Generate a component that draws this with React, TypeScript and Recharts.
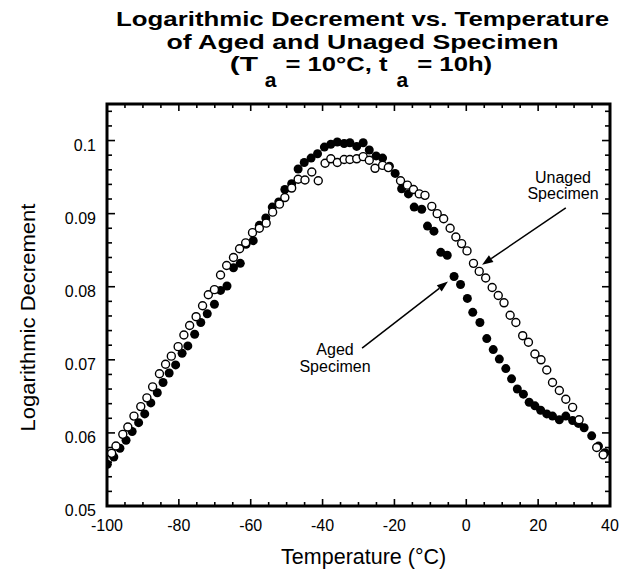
import React from 'react';
import { ScatterChart, Scatter, XAxis, YAxis, ReferenceArea, ReferenceLine } from 'recharts';

const FONT = '"Liberation Sans", Arial, Helvetica, sans-serif';

// aged specimen (filled circles): temperature in °C, logarithmic decrement
const agedTemp = [
  -99.9, -98.1, -96.4, -94.7, -93.0, -91.2, -89.5, -87.8, -86.0, -84.4, -82.7, -80.9, -79.1, -77.5,
  -75.6, -73.9, -72.1, -70.1, -68.4, -66.6, -64.8, -62.9, -61.3, -59.3, -57.6, -55.8, -54.0, -52.2,
  -50.5, -48.6, -46.8, -45.1, -43.2, -41.4, -39.5, -37.7, -35.9, -34.0, -32.4, -30.5, -28.7, -27.0,
  -25.1, -23.3, -21.4, -19.8, -18.0, -16.1, -14.5, -12.4, -10.8, -9.0, -7.1, -5.3, -3.4, -1.6,
  0.3, 1.8, 3.8, 5.7, 7.5, 9.2, 11.0, 12.6, 14.2, 15.9, 17.5, 19.1, 20.7, 22.4, 24.0, 25.9,
  27.7, 29.6, 31.2, 32.8, 34.9, 36.8, 38.6,
];
const agedDecrement = [
  0.0557, 0.0567, 0.0579, 0.059, 0.0602, 0.0614, 0.0626, 0.0641, 0.0655, 0.0669, 0.0682, 0.0693, 0.0709, 0.0719,
  0.0735, 0.0751, 0.0763, 0.0776, 0.0795, 0.0801, 0.0826, 0.0832, 0.0858, 0.0863, 0.0884, 0.0894, 0.0909, 0.0916,
  0.0933, 0.0941, 0.0961, 0.097, 0.0976, 0.0982, 0.0991, 0.0995, 0.0998, 0.0996, 0.0997, 0.0992, 0.0997, 0.0987,
  0.0979, 0.0976, 0.0965, 0.0955, 0.0934, 0.0927, 0.0909, 0.0906, 0.0883, 0.0876, 0.0847, 0.0843, 0.0814, 0.0803,
  0.0784, 0.0765, 0.0751, 0.0729, 0.0714, 0.0701, 0.0688, 0.0674, 0.066, 0.0653, 0.0642, 0.0637, 0.0631, 0.0626, 0.0623, 0.0618,
  0.0623, 0.0617, 0.0613, 0.0607, 0.0596, 0.0582, 0.0573,
];

// unaged specimen (open circles)
const unagedTemp = [
  -98.7, -97.5, -95.6, -94.2, -92.5, -90.6, -88.9, -87.3, -85.4, -83.7, -82.1, -80.2, -78.6, -77.0,
  -75.2, -73.4, -71.8, -70.1, -68.4, -66.7, -64.8, -63.1, -61.4, -59.5, -57.6, -55.7, -53.9, -52.0,
  -50.5, -48.6, -46.8, -44.9, -43.0, -41.2, -39.3, -37.7, -35.9, -34.0, -32.4, -30.5, -28.7, -27.0,
  -25.4, -23.3, -21.7, -18.3, -16.4, -14.7, -13.1, -11.5, -9.6, -8.1, -6.3, -4.5, -2.9, -1.3,
  0.2, 2.0, 3.6, 5.4, 7.2, 8.9, 10.5, 12.2, 13.8, 15.7, 17.3, 19.1, 20.8, 22.4, 24.0, 25.9,
  27.7, 29.6, 31.4, 36.3, 38.1,
];
const unagedDecrement = [
  0.0572, 0.0582, 0.0598, 0.0608, 0.0623, 0.0636, 0.0648, 0.0663, 0.0681, 0.0694, 0.0705, 0.0718, 0.0734, 0.0747,
  0.0759, 0.0774, 0.0789, 0.0796, 0.0816, 0.0829, 0.084, 0.0852, 0.086, 0.0874, 0.088, 0.0887, 0.0902, 0.0913,
  0.0922, 0.0935, 0.0947, 0.0946, 0.0957, 0.0945, 0.0969, 0.0975, 0.097, 0.0974, 0.0974, 0.0975, 0.0978, 0.0973,
  0.0962, 0.0966, 0.0963, 0.0945, 0.0939, 0.0933, 0.0927, 0.0925, 0.091, 0.09, 0.0893, 0.088, 0.0868, 0.0859,
  0.0849, 0.0832, 0.0821, 0.0812, 0.0799, 0.0788, 0.0778, 0.0761, 0.0751, 0.0733, 0.0724, 0.0708, 0.07, 0.0686, 0.0669, 0.0658,
  0.0646, 0.0635, 0.0618, 0.058, 0.057,
];

const xMajorTicks = [-100, -80, -60, -40, -20, 0, 20, 40];
const xTicks = [
  -100, -95, -90, -85, -80, -75, -70, -65, -60, -55, -50, -45, -40, -35, -30, -25, -20, -15, -10, -5,
  0, 5, 10, 15, 20, 25, 30, 35, 40,
];
const yMajorTicks = [0.05, 0.06, 0.07, 0.08, 0.09, 0.1];
const yTickLabels = ['0.05', '0.06', '0.07', '0.08', '0.09', '0.1'];
const yTicks = [
  0.05, 0.052, 0.054, 0.056, 0.058, 0.06, 0.062, 0.064, 0.066, 0.068, 0.07, 0.072, 0.074, 0.076,
  0.078, 0.08, 0.082, 0.084, 0.086, 0.088, 0.09, 0.092, 0.094, 0.096, 0.098, 0.1, 0.102, 0.104,
];

const aged = agedTemp.map((t, i) => ({ t, d: agedDecrement[i] }));
const unaged = unagedTemp.map((t, i) => ({ t, d: unagedDecrement[i] }));

// plot box edges in px, used for mirrored inner ticks
const BOX = { left: 107, right: 610, top: 104, bottom: 506 };

const XTick = (props: any) => {
  const { x, payload } = props;
  const major = xMajorTicks.includes(payload.value);
  const len = major ? 7 : 4;
  return (
    <g>
      <line x1={x} x2={x} y1={BOX.bottom} y2={BOX.bottom - len} stroke="#000" strokeWidth={1.6} />
      <line x1={x} x2={x} y1={BOX.top} y2={BOX.top + len} stroke="#000" strokeWidth={1.6} />
      {major && (
        <text x={x} y={531} textAnchor="middle" fontSize={16} fontFamily={FONT} fill="#000">
          {payload.value}
        </text>
      )}
    </g>
  );
};

const YTick = (props: any) => {
  const { y, payload } = props;
  const idx = yMajorTicks.findIndex((v) => Math.abs(v - payload.value) < 1e-6);
  const major = idx >= 0;
  const len = major ? 8 : 5;
  return (
    <g>
      <line x1={BOX.left} x2={BOX.left + len} y1={y} y2={y} stroke="#000" strokeWidth={1.6} />
      <line x1={BOX.right} x2={BOX.right - len} y1={y} y2={y} stroke="#000" strokeWidth={1.6} />
      {major && (
        <text x={96} y={y + 10} textAnchor="end" fontSize={16} fontFamily={FONT} fill="#000">
          {yTickLabels[idx]}
        </text>
      )}
    </g>
  );
};

const Arrow = (props: any) => {
  const { x1, y1, x2, y2 } = props;
  const a = Math.atan2(y2 - y1, x2 - x1);
  const L = 11;
  const W = 4;
  const bx = x2 - L * Math.cos(a);
  const by = y2 - L * Math.sin(a);
  const p1 = `${bx + W * Math.sin(a)},${by - W * Math.cos(a)}`;
  const p2 = `${bx - W * Math.sin(a)},${by + W * Math.cos(a)}`;
  return (
    <g>
      <line x1={x1} y1={y1} x2={bx} y2={by} stroke="#000" strokeWidth={1.5} />
      <polygon points={`${x2},${y2} ${p1} ${p2}`} fill="#000" />
    </g>
  );
};

const FilledDot = (props: any) => <circle cx={props.cx} cy={props.cy} r={4.5} fill="#000" />;
const OpenDot = (props: any) => (
  <circle cx={props.cx} cy={props.cy} r={4} fill="#fff" stroke="#000" strokeWidth={1.4} />
);

export default function App() {
  return (
    <div style={{ position: 'absolute', left: 0, top: 0, width: 622, height: 571, background: '#fff' }}>
      <ScatterChart width={622} height={571} margin={{ top: 104, right: 12, bottom: 25, left: 0 }}>
        <XAxis
          type="number"
          dataKey="t"
          domain={[-100, 40]}
          ticks={xTicks}
          interval={0}
          allowDataOverflow
          axisLine={false}
          tickLine={false}
          height={40}
          tick={<XTick />}
        />
        <YAxis
          type="number"
          dataKey="d"
          domain={[0.05, 0.105]}
          ticks={yTicks}
          interval={0}
          allowDataOverflow
          axisLine={false}
          tickLine={false}
          width={107}
          tick={<YTick />}
        />
        <Scatter data={aged} shape={<FilledDot />} isAnimationActive={false} />
        <Scatter data={unaged} shape={<OpenDot />} isAnimationActive={false} />
        <ReferenceLine
          segment={[{ x: 27.7, y: 0.0908 }, { x: 4.4, y: 0.083 }]}
          shape={<Arrow />}
        />
        <ReferenceLine
          segment={[{ x: -29.0, y: 0.0716 }, { x: -5.1, y: 0.0807 }]}
          shape={<Arrow />}
        />
        <ReferenceArea x1={-100} x2={40} y1={0.05} y2={0.105} fill="none" stroke="#000" strokeWidth={3} />
      </ScatterChart>
      <svg
        width={622}
        height={571}
        style={{ position: 'absolute', left: 0, top: 0, pointerEvents: 'none' }}
        fontFamily={FONT}
      >
        <g fontWeight="bold" fontSize={21} textAnchor="middle" fill="#000">
          <text x={362.5} y={26} textLength={493} lengthAdjust="spacingAndGlyphs">
            Logarithmic Decrement vs. Temperature
          </text>
          <text x={362.5} y={48.5} textLength={392} lengthAdjust="spacingAndGlyphs">
            of Aged and Unaged Specimen
          </text>
          <text x={361} y={71}>
            <tspan textLength={26} lengthAdjust="spacingAndGlyphs">(T</tspan>
            <tspan dx={9} dy={16}>a</tspan>
            <tspan dx={9} dy={-16} textLength={102} lengthAdjust="spacingAndGlyphs">= 10°C, t</tspan>
            <tspan dx={9} dy={16}>a</tspan>
            <tspan dx={9} dy={-16} textLength={75} lengthAdjust="spacingAndGlyphs">= 10h)</tspan>
          </text>
        </g>
        <g fontSize={16} textAnchor="middle" fill="#000">
          <text x={563} y={182.7}>Unaged</text>
          <text x={563} y={199.3}>Specimen</text>
          <text x={335} y={354.5}>Aged</text>
          <text x={335} y={371.5}>Specimen</text>
        </g>
        <text x={363.7} y={564} fontSize={21.5} textAnchor="middle" fill="#000">
          Temperature<tspan dx={6}>(°C)</tspan>
        </text>
        <text
          x={35}
          y={317.5}
          fontSize={20.5}
          textAnchor="middle"
          fill="#000"
          textLength={228}
          lengthAdjust="spacingAndGlyphs"
          transform="rotate(-90, 35, 317.5)"
        >
          Logarithmic Decrement
        </text>
      </svg>
    </div>
  );
}
